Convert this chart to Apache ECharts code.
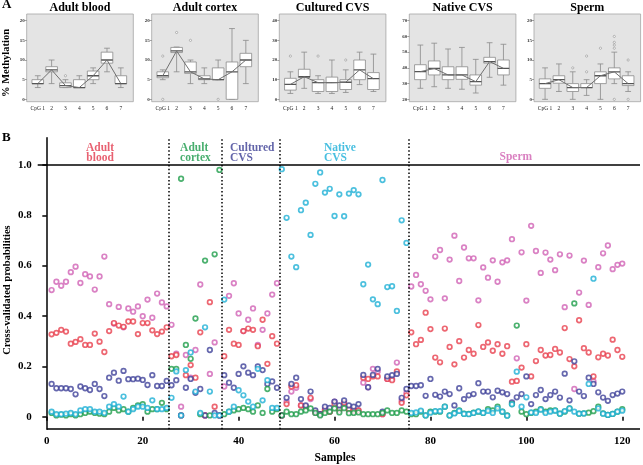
<!DOCTYPE html>
<html><head><meta charset="utf-8">
<script src="https://cdn.jsdelivr.net/npm/echarts@6/dist/echarts.min.js"></script>
<style>html,body{margin:0;padding:0;background:#fff}#c{width:643px;height:465px}</style>
</head><body><div id="c"></div>
<script>
// ---------- Panel A data ----------
const cpgLabels = ['CpG 1','2','3','4','5','6','7'];
const panelTitles = ['Adult blood','Adult cortex','Cultured CVS','Native CVS','Sperm'];
// [min, q1, median, q3, max] per CpG
const boxBlood = [[3,4,4,5,6],[4,7,7.5,8.3,10],[3,3,3.5,4.2,5],[3,3,3,5,6],[4,5,6,7.2,8],[7,9.2,10,12,13],[3,4,4,6,8]];
const boxCortex = [[5,5.5,6,7,7.5],[7,11.9,12.3,13.2,13.3],[4,6.6,7,9.5,10],[4,5,5.2,6,8],[5,5,5,8,10],[0,0,7,9.5,18],[4,8.3,10,11.7,15]];
const boxCultured = [[3,4.7,7.6,10.7,14],[5.6,11.2,11.5,15.3,24],[3,4,8.5,10,12],[3,4,8.5,11.3,20],[3.5,5,8.7,10,15],[7.5,10,15,20,24],[4,5,10.5,13.6,23]];
const boxNative = [[27,32.5,37.6,42,54.5],[28,35.5,39.6,44.4,55.7],[27,32.5,35.5,40.7,52],[26.4,32.7,35.5,40.7,53],[24,29,31.2,35.5,45.4],[34,43,44,46.7,56],[29,35.5,39.7,45,55]];
const boxSperm = [[0,2.8,4,5.2,8],[2,4.1,5,6,9],[0,2,3,4,7],[1,3,3,4,5],[0,4,6,7,9],[4,5.2,7,8,12],[2,3.5,4,6,7]];
// outliers [CpG, value]
const outBlood = [[3,6]];
const outCortex = [[1,11],[2,17],[3,15],[1,0],[5,0]];
const outCultured = [[1,22],[3,22],[5,20]];
const outNative = [];
const outSperm = [[3,8],[4,11],[4,7],[5,13],[6,16],[6,14.5],[6,13.8],[6,13],[7,10],[6,0],[7,0]];
const yTicksA = [[0,5,10,15,20],[0,5,10,15,20],[0,10,20,30,40],[20,30,40,50,60,70],[0,5,10,15,20]];

// ---------- Panel B data ----------
const groupNames = ['Adult\nblood','Adult\ncortex','Cultured\nCVS','Native\nCVS','Sperm'];
const groupBounds = [25.5, 36.5, 48.5, 75.5];
const xTicksB = [0,20,40,60,80,100,120];
const yTicksB = [0,0.2,0.4,0.6,0.8,1.0];
const probSperm = [.503,.536,.52,.536,.574,.596,.531,.566,.557,.505,.557,.636,.447,.37,.436,.355,.43,.417,.438,.399,.465,.393,.489,.454,.438,
 .365,.25,.04,.245,.155,.265,.525,.005,.17,.295,.005,
 .12,.48,.53,.41,.34,.385,.43,.285,.345,.41,.485,.53,
 .005,.06,.1,.115,.045,.04,.07,.015,.01,.03,.02,.06,.025,.05,.025,.02,.025,.135,.117,.19,.18,.01,.15,.15,.215,.065,.095,
 .517,.563,.526,.5,.466,.636,.662,.47,.624,.719,.539,.672,.629,.629,.462,.593,.552,.621,.536,.613,.621,.705,.232,.653,.461,.758,.658,.571,.652,.624,.582,.645,.435,.64,.11,.493,.62,.444,.14,.594,.649,.68,.586,.603,.608];
const probBlood = [.327,.333,.345,.338,.29,.297,.308,.285,.285,.33,.298,.257,.34,.372,.362,.357,.378,.378,.328,.372,.372,.343,.328,.338,.355,
 .24,.245,.005,.165,.205,.155,.335,.005,.455,.04,.005,
 .24,.345,.29,.285,.34,.35,.345,.28,.385,.21,.32,.29,
 .005,.05,.12,.125,.045,.04,.075,.02,.01,.025,.02,.05,.03,.055,.03,.025,.025,.155,.15,.16,.16,.01,.15,.145,.18,.055,.085,
 .335,.288,.305,.413,.348,.235,.216,.35,.277,.208,.3,.235,.265,.25,.364,.277,.295,.262,.288,.25,.28,.139,.142,.195,.288,.16,.221,.265,.243,.245,.269,.255,.352,.229,.2,.383,.272,.255,.16,.236,.25,.243,.306,.265,.238];
const probCultured = [.13,.113,.113,.113,.11,.089,.12,.113,.106,.13,.11,.082,.155,.175,.143,.182,.149,.149,.151,.146,.126,.165,.122,.122,.142,
 .125,.145,.005,.115,.15,.095,.11,.005,.265,.015,.005,
 .165,.135,.115,.17,.2,.175,.165,.2,.185,.13,.14,.115,
 .005,.075,.13,.155,.07,.045,.1,.025,.01,.04,.035,.06,.045,.065,.045,.04,.05,.166,.117,.166,.19,.02,.16,.165,.17,.075,.11,
 .122,.122,.125,.083,.15,.087,.08,.1,.09,.045,.113,.07,.085,.09,.133,.1,.1,.077,.103,.097,.09,.057,.077,.09,.16,.05,.086,.106,.07,.086,.1,.076,.171,.065,.22,.1,.082,.155,.13,.097,.076,.063,.086,.092,.1];
const probCortex = [.015,.005,.008,.005,.01,.005,.01,.015,.02,.015,.012,.01,.02,.035,.025,.03,.02,.035,.045,.05,.02,.03,.03,.055,.03,
 .19,.19,.945,.285,.23,.39,.01,.62,.005,.645,.98,
 .01,.02,.025,.03,.035,.03,.02,.045,.015,.11,.02,.03,
 .005,.02,.01,.01,.02,.025,.033,.015,.005,.015,.02,.033,.017,.034,.014,.015,.017,.01,.01,.01,.01,.015,.025,.015,.015,.025,.02,
 .01,.01,.02,.005,.02,.02,.02,.04,.005,.015,.025,.012,.011,.016,.02,.015,.03,.025,.04,.02,.005,.05,.362,.02,.01,.015,.02,.03,.02,.025,.025,.012,.02,.033,.45,.012,.013,.016,.022,.04,.013,.007,.011,.02,.03];
const probNative = [.02,.01,.01,.012,.015,.01,.025,.03,.03,.02,.02,.015,.04,.05,.04,.08,.02,.03,.04,.04,.035,.065,.03,.03,.035,
 .075,.18,.005,.185,.255,.1,.015,.355,.1,.005,.005,
 .465,.02,.04,.105,.085,.06,.04,.19,.065,.145,.035,.035,
 .983,.79,.636,.594,.82,.85,.722,.925,.97,.89,.905,.797,.883,.796,.886,.9,.883,.526,.604,.466,.447,.94,.515,.518,.42,.78,.69,
 .015,.017,.024,.005,.016,.022,.022,.04,.005,.013,.023,.011,.01,.015,.021,.015,.023,.015,.033,.02,.004,.049,.179,.04,.077,.017,.015,.028,.015,.02,.024,.012,.022,.033,.02,.012,.013,.13,.548,.033,.012,.007,.011,.02,.024];

// ---------- layout / style ----------
const serif = "'Liberation Serif','Times New Roman',serif";
const colPink = '#d163b5', colRed = '#e8414f', colBlue = '#40429a', colGreen = '#1f9e4b', colCyan = '#1fb0d6';
const groupColors = ['#e23a4e','#1a9a4a','#3b3d94','#1aafd8','#cf5fb0'];
const panelBoxes = [boxBlood, boxCortex, boxCultured, boxNative, boxSperm];
const panelOut = [outBlood, outCortex, outCultured, outNative, outSperm];
const panelLeft = [26.7, 151.7, 279.3, 409.3, 534];
const panelW = 106.6, panelTop = 14, panelBottomPx = 101.7;
const yRangeA = [[-0.6,21.7],[-0.6,21.7],[-1.2,43.4],[18.47,74.26],[-0.6,21.7]];

const grids = [], xAxes = [], yAxes = [], series = [], graphics = [];

function renderBox(params, api) {
  const c = api.value(0);
  const lo = api.coord([c, api.value(1)]);
  const q1 = api.coord([c, api.value(2)]);
  const md = api.coord([c, api.value(3)]);
  const q3 = api.coord([c, api.value(4)]);
  const hi = api.coord([c, api.value(5)]);
  const unit = api.size([1, 0])[0];
  const hw = unit * 0.42, cw = unit * 0.21, x = lo[0];
  const ls = {stroke:'#8a8a8a', lineWidth:0.8};
  return {type:'group', children:[
    {type:'line', shape:{x1:x,y1:hi[1],x2:x,y2:q3[1]}, style:ls},
    {type:'line', shape:{x1:x,y1:q1[1],x2:x,y2:lo[1]}, style:ls},
    {type:'line', shape:{x1:x-cw,y1:hi[1],x2:x+cw,y2:hi[1]}, style:ls},
    {type:'line', shape:{x1:x-cw,y1:lo[1],x2:x+cw,y2:lo[1]}, style:ls},
    {type:'rect', shape:{x:x-hw,y:q3[1],width:2*hw,height:Math.max(q1[1]-q3[1],0.5)}, style:{fill:'#fff',stroke:'#8a8a8a',lineWidth:0.8}},
    {type:'line', shape:{x1:x-hw,y1:md[1],x2:x+hw,y2:md[1]}, style:{stroke:'#555',lineWidth:1.3}}
  ]};
}

panelBoxes.forEach((boxes, i) => {
  grids.push({left: panelLeft[i], top: panelTop, width: panelW, height: panelBottomPx - panelTop,
    show: true, backgroundColor: '#e4e4e4', borderColor: '#a5a5a5', borderWidth: 0.8});
  xAxes.push({gridIndex:i, type:'value', min:0.2, max:7.9,
    axisLine:{show:false}, axisTick:{show:false}, splitLine:{show:false},
    axisLabel:{customValues:[1,2,3,4,5,6,7], formatter: v => cpgLabels[Math.round(v)-1], fontSize:5.5,
      fontFamily:serif, color:'#222', margin:4}});
  yAxes.push({gridIndex:i, type:'value', min:yRangeA[i][0], max:yRangeA[i][1],
    axisLine:{show:false}, splitLine:{show:false},
    axisTick:{show:true, customValues:yTicksA[i], length:2, lineStyle:{color:'#666', width:0.6}},
    axisLabel:{customValues:yTicksA[i], fontSize:5, fontWeight:'bold', fontFamily:serif, color:'#333', margin:2}});
  series.push({type:'custom', xAxisIndex:i, yAxisIndex:i, renderItem: renderBox, clip:true,
    data: boxes.map((b,k)=>[k+1, ...b]), silent:true});
  series.push({type:'line', xAxisIndex:i, yAxisIndex:i, data: boxes.map((b,k)=>[k+1, b[2]]),
    symbol:'none', lineStyle:{color:'#707070', width:1}, silent:true});
  series.push({type:'scatter', xAxisIndex:i, yAxisIndex:i, data: panelOut[i], symbol:'circle', symbolSize:2.2,
    itemStyle:{color:'#fff', borderColor:'#888', borderWidth:0.7}, silent:true});
  graphics.push({type:'text', x: panelLeft[i] + panelW/2, y: 8,
    style:{text: panelTitles[i], font: "bold 12px " + serif, fill:'#000', align:'center', verticalAlign:'middle'}});
});

// Panel B
const gB = panelBoxes.length;
grids.push({left:37.7, right:3, top:137.7, bottom:35.7});
xAxes.push({gridIndex:gB, type:'value', min:-1.9, max:123.7,
  axisLine:{show:false}, splitLine:{show:false},
  axisTick:{show:true, customValues:xTicksB, length:4, lineStyle:{color:'#000', width:1.5}},
  axisLabel:{customValues:xTicksB, fontSize:11, fontWeight:'bold', fontFamily:serif, color:'#000', margin:6}});
yAxes.push({gridIndex:gB, type:'value', min:-0.05, max:1.108,
  axisLine:{show:true, lineStyle:{color:'#000', width:1.5}}, splitLine:{show:false},
  axisTick:{show:true, customValues:yTicksB, length:4.5, lineStyle:{color:'#000', width:1.5}},
  axisLabel:{customValues:yTicksB, formatter: v => v === 0 ? '0' : v.toFixed(1), fontSize:11, fontWeight:'bold',
    fontFamily:serif, color:'#000', margin:6}});

const probSeries = [[probSperm, colPink],[probBlood, colRed],[probCultured, colBlue],[probCortex, colGreen],[probNative, colCyan]];
probSeries.forEach(([arr, col], k) => {
  const s = {type:'scatter', xAxisIndex:gB, yAxisIndex:gB, data: arr.map((v,i)=>[i+1, v]),
    symbol:'circle', symbolSize:4.6, itemStyle:{color:'#fff', borderColor:col, borderWidth:1.7}, silent:true};
  if (k === 0) {
    s.markLine = {silent:true, symbol:'none', label:{show:false}, animation:false,
      data: [
        ...groupBounds.map(b => ({xAxis:b, lineStyle:{type:[1.5,2.2], color:'#000', width:1.5}})),
        {yAxis:1, lineStyle:{type:'solid', color:'#000', width:1.5}},
        [{coord:[0,-0.0495], lineStyle:{type:'solid', color:'#000', width:1.5}}, {coord:[123.7,-0.0495]}]
      ]};
  }
  series.push(s);
});

// group labels (text annotations)
const labelSpots = [[11.1,1.048,'center'],[27.8,1.048,'left'],[38.2,1.048,'left'],[57.8,1.048,'left'],[97.8,1.033,'center']];
series.push({type:'scatter', xAxisIndex:gB, yAxisIndex:gB, symbolSize:0, silent:true,
  data: groupNames.map((n,i)=>({value:[labelSpots[i][0], labelSpots[i][1]], name:n,
    label:{show:true, formatter:n, position:[0,0], align:labelSpots[i][2], verticalAlign:'middle',
      color:groupColors[i], fontSize:11.5, fontWeight:'bold', fontFamily:serif, lineHeight:10}}))});

graphics.push({type:'text', x:2, y:5, style:{text:'A', font:"bold 13px "+serif, fill:'#000', verticalAlign:'middle'}});
graphics.push({type:'text', x:2, y:137.5, style:{text:'B', font:"bold 13px "+serif, fill:'#000', verticalAlign:'middle'}});
graphics.push({type:'text', x:6.5, y:63, rotation:Math.PI/2,
  style:{text:'% Methylation', font:"bold 10.5px "+serif, fill:'#000', align:'center', verticalAlign:'middle'}});
graphics.push({type:'text', x:7.5, y:290, rotation:Math.PI/2,
  style:{text:'Cross-validated probabilities', font:"bold 10.5px "+serif, fill:'#000', align:'center', verticalAlign:'middle'}});
graphics.push({type:'text', x:335, y:458, style:{text:'Samples', font:"bold 11.5px "+serif, fill:'#000', align:'center', verticalAlign:'middle'}});

const chart = echarts.init(document.getElementById('c'));
chart.setOption({animation:false, backgroundColor:'#fff', grid:grids, xAxis:xAxes, yAxis:yAxes, series:series, graphic:graphics});
</script></body></html>
